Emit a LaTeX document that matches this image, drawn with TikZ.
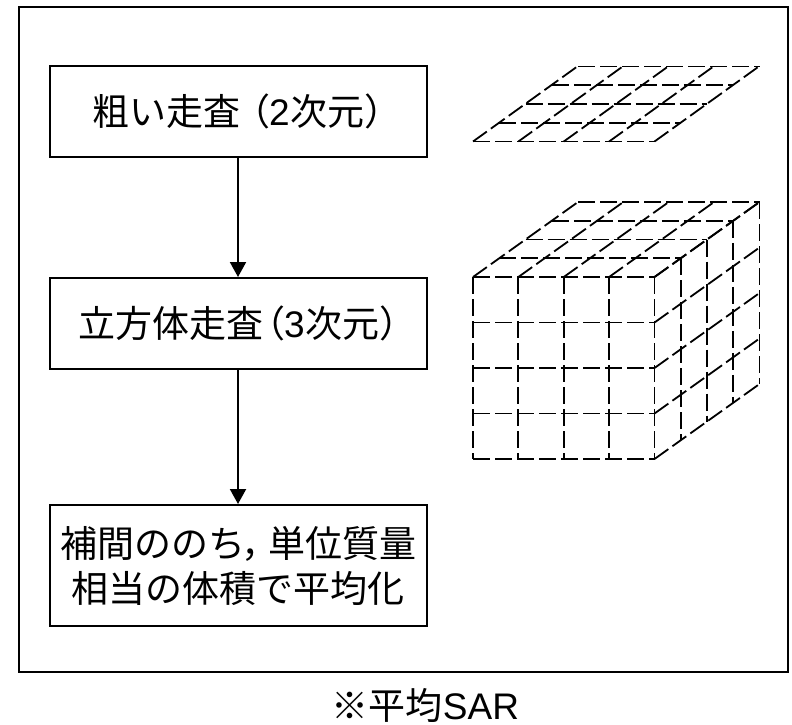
\documentclass[tikz,border=0pt]{standalone}
\usepackage{fontspec}
\setmainfont{Noto Sans CJK JP}
\newfontfamily\latinfont{Liberation Sans}
\newcommand{\lat}[1]{{\latinfont #1}}
\usetikzlibrary{arrows.meta}
\tikzset{
  flowbox/.style={draw=black,line width=2pt,minimum width=377pt,inner sep=0pt,align=center,font=\fontsize{37}{45}\selectfont},
  flowarrow/.style={line width=2pt,-{Triangle[length=15pt,width=16pt]}},
  gridline/.style={line width=1.8pt,dash pattern=on 17pt off 5pt,black},
  framebox/.style={draw=black,line width=2pt,minimum width=769pt,minimum height=665pt,inner sep=0pt},
  captiontext/.style={font=\fontsize{37}{45}\selectfont,inner sep=0pt}
}
\begin{document}
\begin{tikzpicture}[x=1pt,y=-1pt]
\useasboundingbox (0,0) rectangle (792,724);
\node[framebox] (frame) at (403.5,339) {};
\node[flowbox,minimum height=91pt] (rough) at (238,111.5) {\kern-5pt粗い走査\kern-7pt（\kern-1pt\lat{2}\kern1pt次元）\kern-23pt};
\node[flowbox,minimum height=91pt] (cube) at (238,323.5) {\kern-4pt立方体走査\kern-15pt（\kern-1pt\lat{3}\kern1pt次元）\kern-23pt};
\node[flowbox,minimum height=121pt] (avg) at (238,565.5) {補間ののち\kern-4pt，\kern-10pt単位質量\\相当の体積で平均化};
\draw[flowarrow] (rough) -- (cube);
\draw[flowarrow] (cube) -- (avg);
\node[captiontext] (caption) at (425.5,705.5) {※平均\lat{SAR}};
% flat grid
\foreach \j in {0,...,4}{
  \draw[gridline] ({473+26.25*\j},{141.5-18.75*\j}) -- ({654.5+26.25*\j},{141.5-18.75*\j});
  \draw[gridline] ({473+45.375*\j},141.5) -- ({578+45.375*\j},66);
}
% cube
\foreach \j in {0,...,4}{
  % front face
  \draw[gridline] ({473+45.375*\j},277) -- ({473+45.375*\j},459);
  \draw[gridline] (473,{277+45.5*\j}) -- (654.5,{277+45.5*\j});
  % top face
  \draw[gridline] ({473+26.25*\j},{277-18.75*\j}) -- ({654.5+26.25*\j},{277-18.75*\j});
  \draw[gridline] ({473+45.375*\j},277) -- ({578+45.375*\j},202);
  % right face
  \draw[gridline] (654.5,{277+45.5*\j}) -- (759.5,{202+45.5*\j});
  \draw[gridline] ({654.5+26.25*\j},{277-18.75*\j}) -- ({654.5+26.25*\j},{459-18.75*\j});
}
\end{tikzpicture}
\end{document}
